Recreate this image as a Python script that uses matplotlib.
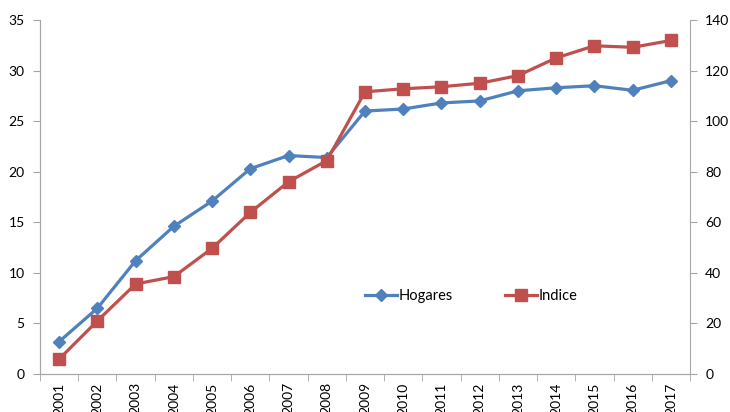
import matplotlib
matplotlib.use("Agg")
import matplotlib.pyplot as plt
import numpy as np

years = [str(y) for y in range(2001, 2018)]
hogares = [3.2, 6.5, 11.2, 14.6, 17.1, 20.3, 21.6, 21.4, 26.0, 26.2, 26.8, 27.0, 28.0, 28.3, 28.5, 28.05, 29.0]
indice = [5.9, 21.0, 35.6, 38.5, 49.7, 63.9, 76.0, 84.4, 111.6, 112.8, 113.6, 115.0, 118.0, 125.0, 129.8, 129.2, 131.9]

plt.rcParams['font.family'] = ['Lato', 'DejaVu Sans']
blue = '#4F81BD'
red = '#C0504D'
grey = '#A6A6A6'

fig = plt.figure(figsize=(7.3, 4.12), dpi=100)
ax = fig.add_axes([40/730, 1-374/412, 650/730, 354/412])
ax2 = ax.twinx()

x = np.arange(len(years))
l1, = ax.plot(x, hogares, color=blue, lw=2.3, marker='D', ms=6.5, label='Hogares')
l2, = ax2.plot(x, indice, color=red, lw=2.3, marker='s', ms=8, label='Indice')

ax.set_xlim(-0.5, len(years)-0.5)
ax.set_ylim(0, 35)
ax2.set_ylim(0, 140)
ax.set_yticks(np.arange(0, 36, 5))
ax2.set_yticks(np.arange(0, 141, 20))

ax.set_xticks(x)
ax.set_xticklabels(years, rotation=90, fontsize=10)
ax.set_xticks(np.arange(-0.5, len(years), 1), minor=True)
ax.tick_params(axis='x', which='major', length=0, pad=6)
ax.tick_params(axis='x', which='minor', length=5, color=grey)
ax.tick_params(axis='y', length=5, color=grey, labelsize=10, pad=6)
ax2.tick_params(axis='y', length=5, color=grey, labelsize=10, pad=6)

for a in (ax, ax2):
    a.spines['top'].set_visible(False)
    for s in ('left', 'right', 'bottom'):
        a.spines[s].set_color(grey)
ax.spines['right'].set_visible(False)

ax.legend([l1, l2], ['Hogares', 'Indice'], ncol=2, frameon=False,
          loc='center', bbox_to_anchor=(0.663, 0.22), fontsize=10.5,
          handlelength=2.2, handletextpad=0.1, columnspacing=3.6)

fig.savefig('out.png', dpi=100)
